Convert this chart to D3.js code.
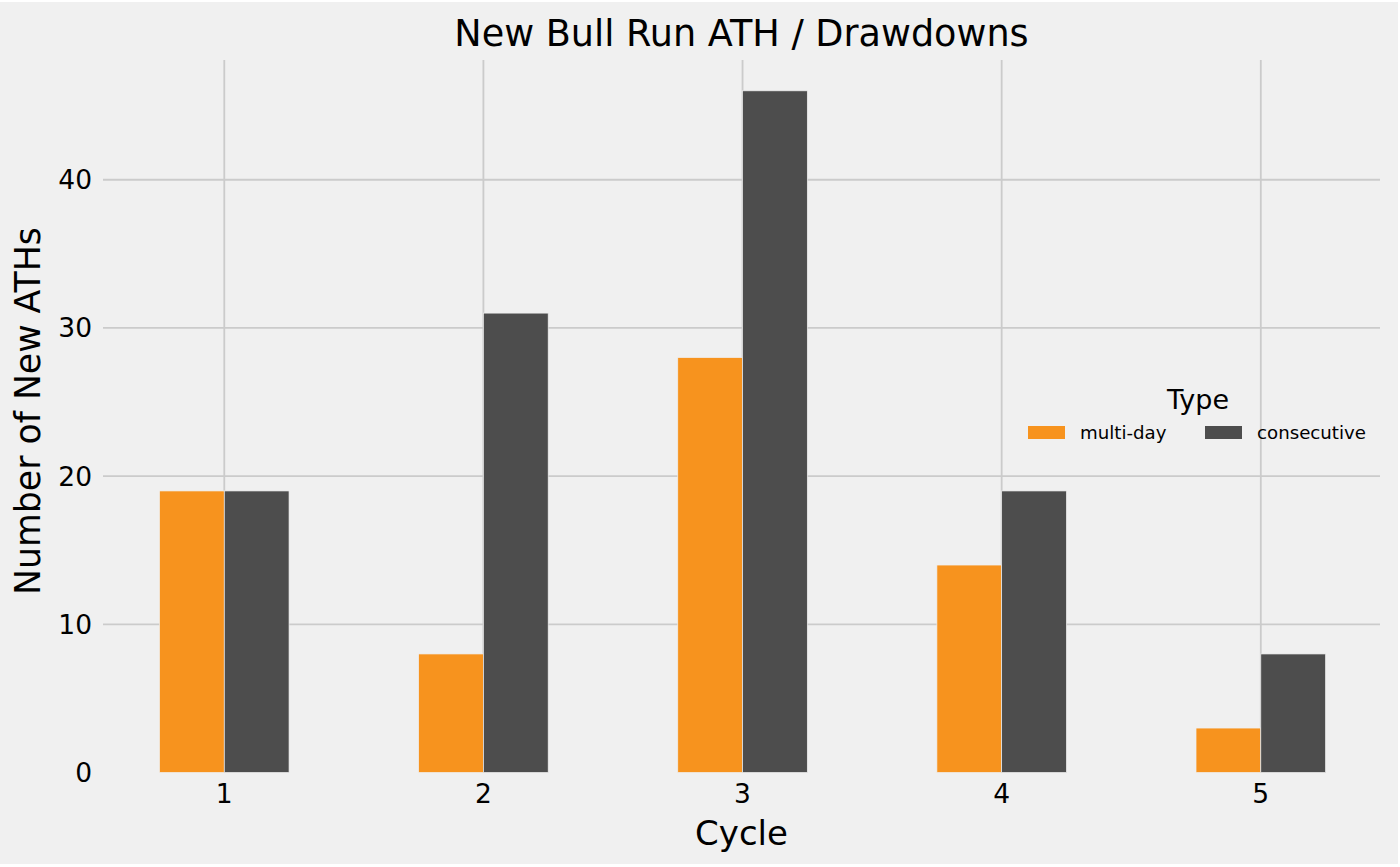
<!DOCTYPE html>
<html>
<head>
<meta charset="utf-8">
<script src="https://cdn.jsdelivr.net/npm/d3@7"></script>
<style>
  html, body { margin: 0; padding: 0; background: #ffffff; }
  svg { display: block; font-family: "DejaVu Sans", sans-serif; }
</style>
</head>
<body>
<svg id="chart" width="1400" height="867"></svg>
<script>
const cycles = ["1", "2", "3", "4", "5"];
const multiDay = [19, 8, 28, 14, 3];
const consecutive = [19, 31, 46, 19, 8];
const seriesNames = ["multi-day", "consecutive"];
const seriesColors = ["#f7931e", "#4d4d4d"];
const yTicks = [0, 10, 20, 30, 40];

const W = 1400, H = 867;
const plot = { left: 103, right: 1380, top: 60, bottom: 772.5 };

const svg = d3.select("#chart");
svg.append("rect").attr("x", 0).attr("y", 2).attr("width", 1398).attr("height", 862).attr("fill", "#f0f0f0");

const x = d3.scaleLinear().domain([-0.468, 4.46]).range([plot.left, plot.right]);
const y = d3.scaleLinear().domain([0, 48.08]).range([plot.bottom, plot.top]);
const barW = x(0.25) - x(0);

const grid = svg.append("g");
grid.selectAll("line.h").data(yTicks.filter(d => d > 0)).join("line")
  .attr("x1", plot.left).attr("x2", plot.right)
  .attr("y1", d => y(d)).attr("y2", d => y(d))
  .attr("stroke", "#cbcbcb").attr("stroke-width", 1.8);
grid.selectAll("line.v").data(cycles).join("line")
  .attr("x1", (d, i) => x(i)).attr("x2", (d, i) => x(i))
  .attr("y1", plot.top).attr("y2", plot.bottom)
  .attr("stroke", "#cbcbcb").attr("stroke-width", 1.8);

const series = [multiDay, consecutive];
series.forEach((vals, s) => {
  svg.append("g").selectAll("rect").data(vals).join("rect")
    .attr("x", (d, i) => x(i) + (s === 0 ? -barW : 0))
    .attr("width", barW)
    .attr("y", d => y(d))
    .attr("height", d => y(0) - y(d))
    .attr("fill", seriesColors[s])
    .attr("stroke", "#f0f0f0")
    .attr("stroke-width", 0.7);
});

svg.append("g").selectAll("text").data(cycles).join("text")
  .attr("x", (d, i) => x(i)).attr("y", 803)
  .attr("text-anchor", "middle").attr("font-size", 26.5).attr("fill", "#000")
  .text(d => d);

svg.append("g").selectAll("text").data(yTicks).join("text")
  .attr("x", 92).attr("y", d => y(d)).attr("dy", "0.36em")
  .attr("text-anchor", "end").attr("font-size", 26.5).attr("fill", "#000")
  .text(d => d);

svg.append("text").attr("x", 741.5).attr("y", 45.5).attr("text-anchor", "middle")
  .attr("font-size", 36.6).attr("fill", "#000").text("New Bull Run ATH / Drawdowns");

svg.append("text").attr("x", 741.5).attr("y", 845).attr("text-anchor", "middle")
  .attr("font-size", 34).attr("fill", "#000").text("Cycle");
svg.append("text").attr("transform", "translate(40,411) rotate(-90)").attr("text-anchor", "middle")
  .attr("font-size", 34.7).attr("fill", "#000").text("Number of New ATHs");

const lg = svg.append("g");
lg.append("text").attr("x", 1198).attr("y", 409).attr("text-anchor", "middle")
  .attr("font-size", 27).attr("fill", "#000").text("Type");
const legX = [1028, 1205];
seriesNames.forEach((name, i) => {
  lg.append("rect").attr("x", legX[i]).attr("y", 426).attr("width", 37).attr("height", 13)
    .attr("fill", seriesColors[i]);
  lg.append("text").attr("x", legX[i] + 52).attr("y", 439)
    .attr("font-size", 18.2).attr("fill", "#000").text(name);
});
</script>
</body>
</html>
